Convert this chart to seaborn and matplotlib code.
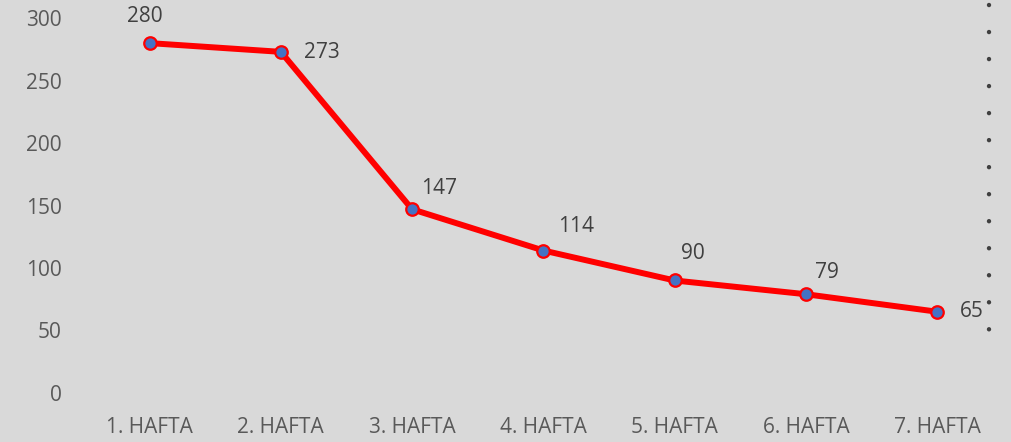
import seaborn as sns
import pandas as pd
import matplotlib.pyplot as plt

# veriler
haftalar = ["1. HAFTA", "2. HAFTA", "3. HAFTA", "4. HAFTA", "5. HAFTA", "6. HAFTA", "7. HAFTA"]
degerler = [280, 273, 147, 114, 90, 79, 65]
y_ticks = [0, 50, 100, 150, 200, 250, 300]

# etiket kaydirmalari (piksel)
etiket_dx = [-5, 41, 27, 33, 18, 21, 35]
etiket_dy = [27, -1, 21, 24, 27, 22, 0]

df = pd.DataFrame({"hafta": haftalar, "deger": degerler})

sns.set_style("white")
plt.rcParams["font.family"] = ["Open Sans", "DejaVu Sans"]

bg = "#d9d9d9"
fig = plt.figure(figsize=(10.11, 4.42), dpi=100, facecolor=bg)
ax = fig.add_axes([0.083, 0.111, 0.909, 0.848])
ax.set_facecolor(bg)

sns.lineplot(data=df, x="hafta", y="deger", sort=False, ax=ax,
             color="#ff0000", linewidth=4.3, marker="o", markersize=9,
             markerfacecolor="#4472c4", markeredgecolor="#ff0000", markeredgewidth=1.6)

for i, v in enumerate(degerler):
    ax.annotate(str(v), (i, v), xytext=(etiket_dx[i] * 0.72, etiket_dy[i] * 0.72),
                textcoords="offset points", ha="center", va="center",
                fontsize=15, color="#404040")

# sagdaki noktali cizgi
lw = 3.2
ax.plot([6.395, 6.395], [310.4, 48.8], color="#404040", linewidth=lw,
        linestyle=(0, (0.01, 6.07)), dash_capstyle="round",
        solid_capstyle="round", clip_on=False)

ax.set_xlim(-0.5, 6.5)
ax.set_ylim(0, 300)
ax.set_yticks(y_ticks)
ax.set_xlabel("")
ax.set_ylabel("")
ax.tick_params(axis="both", length=0, labelsize=15, labelcolor="#595959")
ax.tick_params(axis="y", pad=16)
ax.tick_params(axis="x", pad=17)
for s in ax.spines.values():
    s.set_visible(False)

plt.savefig("out.png", dpi=100, facecolor=bg)
